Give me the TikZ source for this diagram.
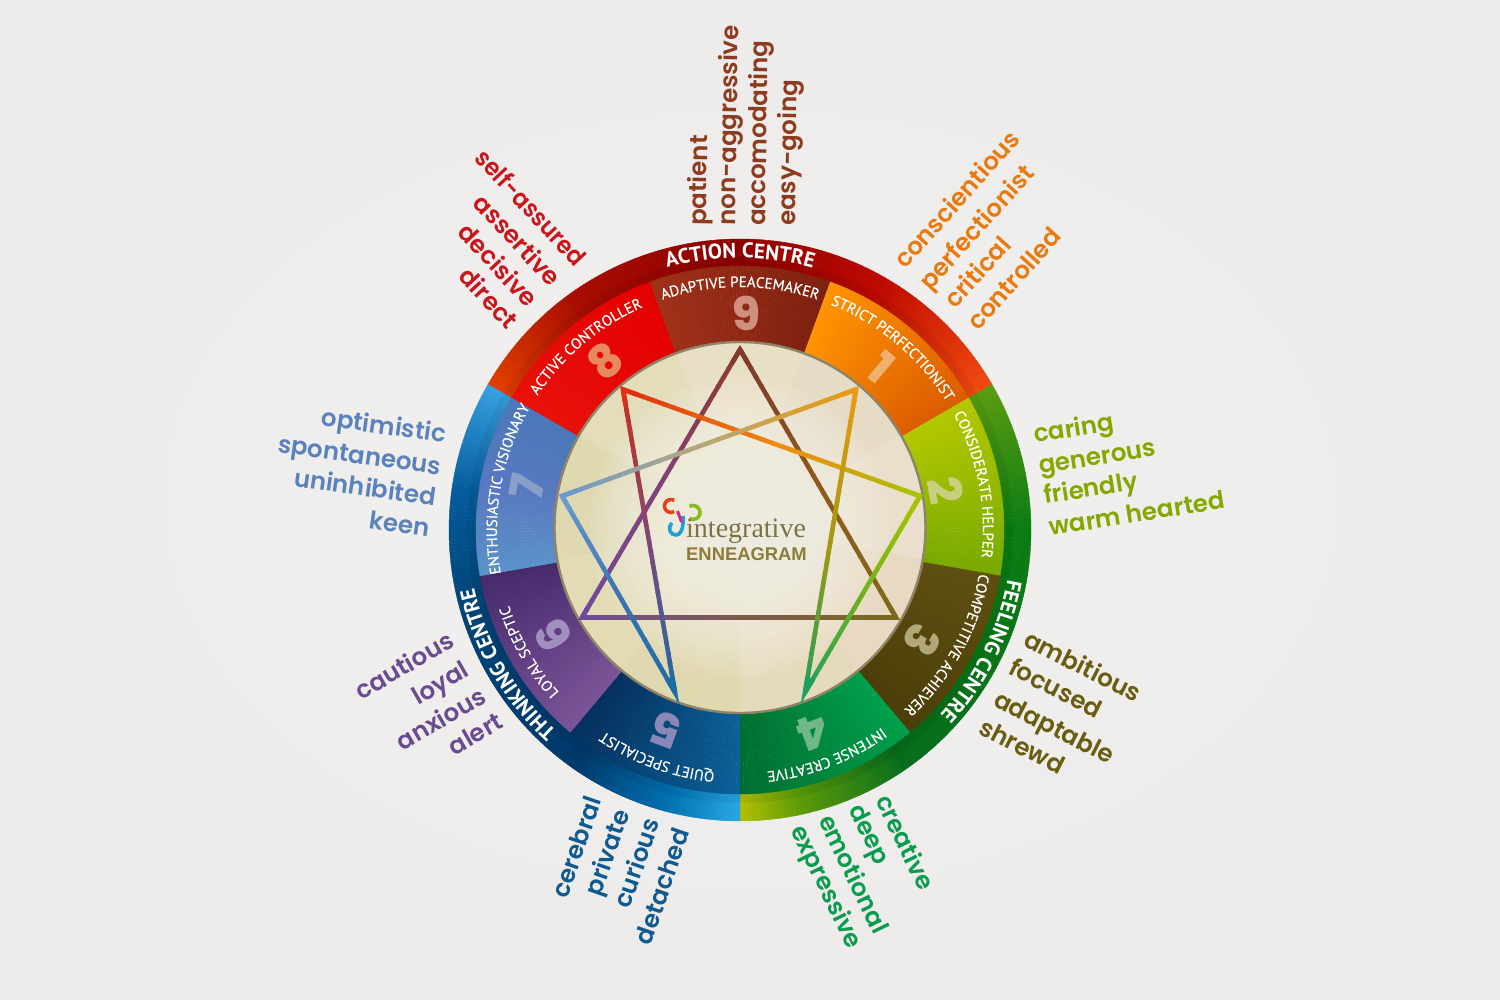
\documentclass[tikz,border=0pt]{standalone}
\usepackage{fontspec}
\usetikzlibrary{calc,decorations.text}
\newfontfamily\lstfont{Poppins SemiBold}
\newfontfamily\numfont{Poppins ExtraBold}
\newfontfamily\ringfont{PT Sans}[FakeBold=0.5]
\newfontfamily\ringbfont{PT Sans Bold}
\newfontfamily\logofont{Liberation Serif}
\newfontfamily\enfont{Liberation Sans}
\makeatletter
\newcommand\dcs[1]{\@for\hx:=#1\do{\edef\tmpdc{\noexpand\definecolor{\hx}{HTML}{\hx}}\tmpdc}}
\makeatother
\dcs{F3F2F0,ECEBE9,F04A10,BE0A00,8C0000,A80C00,E04000,5A9C10,0A7C12,066C1C,5E9C08,B4C000,38A0E0,045C9C,004478,00386A,0070B0,28A8E4,E8100A,E40000,A03018,7E2010,FF9400,DC5C00,B4C800,78AA00,5E4E10,4C3E08,00A04C,006E30,0A6098,04305E,7C5498,452A6C,5A92C8,5878C0,4A78B8,E2DCB6,E8E0C4,E6DCC6,EADFCC,E8DAC2,E6DABC,E0D8B0,E2DBB4,DFD9B2,E4DDBC,F6F3E9,8F8468,7E3A2C,8E5A1C,7E6A18,8E3A30,844078,6E4C9A,7A6A20,7C5A50,E03010,F08A10,A8C400,C83020,7C4878,1C6CA8,E89A10,B8A878,6A9AD0,A09810,1CA060,70B020,3E74B4,D09080,F0B070,C8D080,B0A878,70B888,8A88B8,A090C0,88A0C8,E88860,E8401C,8DB81E,1E9FD8,D4267C,7C7244,8C7C38}
\definecolor{tEight}{HTML}{C8161C}
\definecolor{tNine}{HTML}{8E3A1E}
\definecolor{tOne}{HTML}{E87A10}
\definecolor{tTwo}{HTML}{84A800}
\definecolor{tThree}{HTML}{6A5C10}
\definecolor{tFour}{HTML}{0A9C4C}
\definecolor{tFive}{HTML}{0F5A90}
\definecolor{tSix}{HTML}{6A4A90}
\definecolor{tSeven}{HTML}{5A82BC}
% ring sector: radii, angle range, colours at both ends
\newcommand\gsect[6]{%
  \pgfmathtruncatemacro\nst{max(1,abs(#4-#3)/0.8)}%
  \foreach \i in {1,...,\nst}{%
    \pgfmathsetmacro\aa{#3+(#4-#3)*(\i-1)/\nst}%
    \pgfmathsetmacro\ab{#3+(#4-#3)*\i/\nst}%
    \pgfmathtruncatemacro\pp{100*(\i-0.5)/\nst}%
    \path[fill=#6!\pp!#5,draw=#6!\pp!#5,line width=.4pt] (\aa:#1) arc[start angle=\aa,end angle=\ab,radius=#1] -- (\ab:#2) arc[start angle=\ab,end angle=\aa,radius=#2] -- cycle;
  }}
% graded star line with a middle colour
\newcommand\glink[5]{%
  \foreach \i in {0,...,29}{%
    \pgfmathsetmacro\ta{\i/30}%
    \pgfmathsetmacro\tb{min(1,(\i+1.2)/30)}%
    \pgfmathtruncatemacro\pp{\i<15 ? \i*100/15 : (\i-15)*100/15}%
    \ifnum\i<15 \colorlet{cc}{#4!\pp!#3}\else \colorlet{cc}{#5!\pp!#4}\fi
    \draw[link,cc] ($(#1)!\ta!(#2)$) -- ($(#1)!\tb!(#2)$);
  }}
\newcommand\gtip[4]{\draw[link,miter limit=12,#2] ($(#1)!16pt!(#3)$) -- (#1) -- ($(#1)!16pt!(#4)$);}
% text round the ring (always clockwise)
\newcommand\ringtext[5]{%
  \pgfmathsetmacro\aa{#2+#3}\pgfmathsetmacro\ab{#2-#3}%
  \path[decorate,decoration={text along path,text align=center,
    text={|\color{white}#5\selectfont|#4}}]
    (\aa:#1) arc[start angle=\aa,end angle=\ab,radius=#1];}
\tikzset{
  link/.style={line width=4.6pt,line cap=butt,line join=miter},
  lst/.style={font=\lstfont\fontsize{24.5}{25}\selectfont,inner sep=0pt},
  bignum/.style={font=\numfont\fontsize{46}{46}\selectfont,inner sep=0pt},
}
\begin{document}
\begin{tikzpicture}[x=1pt,y=-1pt]
\useasboundingbox (0,0) rectangle (1500,1000);
\shade[inner color=F3F2F0,outer color=ECEBE9] (0,0) rectangle (1500,1000);

\begin{scope}[shift={(740,530)},x=1pt,y=1pt]
  % outer ring: action
  \gsect{291}{262}{30}{60}{F04A10}{BE0A00}
  \gsect{291}{262}{60}{90}{BE0A00}{8C0000}
  \gsect{291}{262}{90}{125}{8C0000}{A80C00}
  \gsect{291}{262}{125}{150}{A80C00}{E04000}
  % outer ring: feeling
  \gsect{291}{262}{30}{0}{5A9C10}{0A7C12}
  \gsect{291}{262}{0}{-55}{0A7C12}{066C1C}
  \gsect{291}{262}{-55}{-78}{066C1C}{5E9C08}
  \gsect{291}{262}{-78}{-90}{5E9C08}{B4C000}
  % outer ring: thinking
  \gsect{291}{262}{150}{172}{38A0E0}{045C9C}
  \gsect{291}{262}{172}{195}{045C9C}{004478}
  \gsect{291}{262}{195}{235}{004478}{00386A}
  \gsect{291}{262}{235}{255}{00386A}{0070B0}
  \gsect{291}{262}{255}{270}{0070B0}{28A8E4}
  % shadow next to the middle ring
  \foreach \r in {264,266,...,272}{\draw[black,opacity=.05,line width=2pt] (0,0) circle[radius=\r];}
  % middle ring
  \gsect{264}{180}{150}{110}{E8100A}{E40000}
  \gsect{264}{180}{110}{70}{A03018}{7E2010}
  \gsect{264}{180}{70}{30}{FF9400}{DC5C00}
  \gsect{264}{180}{30}{-10}{B4C800}{78AA00}
  \gsect{264}{180}{-10}{-50}{5E4E10}{4C3E08}
  \gsect{264}{180}{-50}{-90}{00A04C}{006E30}
  \gsect{264}{180}{-90}{-130}{0A6098}{04305E}
  \gsect{264}{180}{-130}{-170}{7C5498}{452A6C}
  \gsect{264}{180}{190}{170}{5A92C8}{5878C0}
  \gsect{264}{180}{170}{150}{5878C0}{4A78B8}
\end{scope}

% centre disc
\begin{scope}[shift={(740,527.5)},x=1pt,y=1pt]
  \fill[E2DCB6] (0,0) circle[radius=186];
  \foreach \a/\c in {70/E8E0C4,30/E6DCC6,-10/EADFCC,-50/E8DAC2,-90/E6DABC,-130/E0D8B0,-170/E2DBB4,150/DFD9B2,110/E4DDBC}{
    \fill[\c] (0,0) -- (\a:186) arc[start angle=\a,end angle=\a+40,radius=186] -- cycle;}
  \foreach \r in {150,144,...,12}{\fill[F6F3E9,opacity=.1] (0,0) circle[radius=\r];}
  \draw[8F8468,line width=2.4pt] (0,0) circle[radius=185.5];
  % star points
  \coordinate (p9) at (0,178);
  \coordinate (p1) at (116,138);
  \coordinate (p2) at (180,31.5);
  \coordinate (p3) at (156,-90);
  \coordinate (p4) at (65,-165);
  \coordinate (p5) at (-65,-165);
  \coordinate (p6) at (-158,-90);
  \coordinate (p7) at (-178,31.5);
  \coordinate (p8) at (-117,138);
\end{scope}

% star
\glink{p9}{p3}{7E3A2C}{8E5A1C}{7E6A18}
\glink{p9}{p6}{8E3A30}{844078}{6E4C9A}
\glink{p3}{p6}{7A6A20}{7C5A50}{6E4C9A}
\glink{p8}{p2}{E03010}{F08A10}{A8C400}
\glink{p8}{p5}{C83020}{7C4878}{1C6CA8}
\glink{p1}{p7}{E89A10}{B8A878}{6A9AD0}
\glink{p1}{p4}{E89A10}{A09810}{1CA060}
\glink{p2}{p4}{A8C400}{70B020}{1CA060}
\glink{p5}{p7}{1C6CA8}{3E74B4}{6A9AD0}
\gtip{p9}{7E3A2C}{p3}{p6}
\gtip{p1}{E89A10}{p7}{p4}
\gtip{p2}{A8C400}{p8}{p4}
\gtip{p3}{7A6A20}{p9}{p6}
\gtip{p4}{1CA060}{p1}{p2}
\gtip{p5}{1C6CA8}{p7}{p8}
\gtip{p6}{6E4C9A}{p3}{p9}
\gtip{p7}{6A9AD0}{p1}{p5}
\gtip{p8}{E03010}{p2}{p5}

% ring labels
\begin{scope}[shift={(740,530)},x=1pt,y=1pt]
  \ringtext{272}{90}{40}{ACTION CENTRE}{\ringbfont\fontsize{21}{21}}
  \ringtext{272}{-26.6}{40}{FEELING CENTRE}{\ringbfont\fontsize{21}{21}}
  \ringtext{272}{210}{40}{THINKING CENTRE}{\ringbfont\fontsize{21}{21}}
  \ringtext{243}{90}{40}{ADAPTIVE PEACEMAKER}{\ringfont\fontsize{15}{15}}
  \ringtext{243}{50}{40}{STRICT PERFECTIONIST}{\ringfont\fontsize{15}{15}}
  \ringtext{243}{11}{40}{CONSIDERATE HELPER}{\ringfont\fontsize{15}{15}}
  \ringtext{243}{-29}{40}{COMPETITIVE ACHIEVER}{\ringfont\fontsize{15}{15}}
  \ringtext{243}{-69}{40}{INTENSE CREATIVE}{\ringfont\fontsize{15}{15}}
  \ringtext{243}{-110}{40}{QUIET SPECIALIST}{\ringfont\fontsize{15}{15}}
  \ringtext{243}{-150}{40}{LOYAL SCEPTIC}{\ringfont\fontsize{15}{15}}
  \ringtext{243}{170}{40}{ENTHUSIASTIC VISIONARY}{\ringfont\fontsize{15}{15}}
  \ringtext{243}{130}{40}{ACTIVE CONTROLLER}{\ringfont\fontsize{15}{15}}
\end{scope}

% numerals
\node[bignum,text=D09080,rotate=0] (n9) at (746,313) {9};
\node[bignum,text=F0B070,rotate=-40] (n1) at (881,367) {1};
\node[bignum,text=C8D080,rotate=-80] (n2) at (946,490) {2};
\node[bignum,text=B0A878,rotate=-120] (n3) at (922,640) {3};
\node[bignum,text=70B888,rotate=-160] (n4) at (813,732) {4};
\node[bignum,text=8A88B8,rotate=160] (n5) at (667,730) {5};
\node[bignum,text=A090C0,rotate=120] (n6) at (553,635) {6};
\node[bignum,text=88A0C8,rotate=80] (n7) at (527,487) {7};
\node[bignum,text=E88860,rotate=40] (n8) at (605,361) {8};

% logo
\draw[E8401C,line width=3.6pt] (674.2,500.4) arc[start angle=300,end angle=60,radius=6.5];
\draw[8DB81E,line width=3.6pt] (689.5,506.4) arc[start angle=240,end angle=480,radius=7];
\draw[1E9FD8,line width=3.6pt] (683,516) .. controls (684,530) and (680,535) .. (676,535) .. controls (670,535) and (667,528) .. (672,523);
\draw[D4267C,line width=3pt] (677.5,511) -- (681.5,522);
\node[font=\logofont\fontsize{28}{28}\selectfont,text=7C7244,anchor=base west,inner sep=0pt] (logoA) at (686,537) {integrative};
\node[font=\enfont\bfseries\fontsize{18.4}{19}\selectfont,text=8C7C38,anchor=base west,inner sep=0pt] (logoB) at (686,560) {ENNEAGRAM};

% word lists
\begin{scope}[every node/.append style={lst}]
\node[text=tNine,rotate=89,anchor=base west] (w91) at (706,226) {patient};
\node[text=tNine,rotate=89,anchor=base west] (w92) at (735,226) {non-aggressive};
\node[text=tNine,rotate=89,anchor=base west] (w93) at (765,226) {accomodating};
\node[text=tNine,rotate=89,anchor=base west] (w94) at (795,226) {easy-going};
\node[text=tOne,rotate=48,anchor=base west] (w11) at (905,270) {conscientious};
\node[text=tOne,rotate=48,anchor=base west] (w12) at (930,292) {perfectionist};
\node[text=tOne,rotate=48,anchor=base west] (w13) at (955,310) {critical};
\node[text=tOne,rotate=48,anchor=base west] (w14) at (978,332) {controlled};
\node[text=tTwo,rotate=9,anchor=base west] (w21) at (1035,443) {caring};
\node[text=tTwo,rotate=9,anchor=base west] (w22) at (1040,474) {generous};
\node[text=tTwo,rotate=9,anchor=base west] (w23) at (1045,504) {friendly};
\node[text=tTwo,rotate=9,anchor=base west] (w24) at (1050,536) {warm hearted};
\node[text=tThree,rotate=-27,anchor=base west] (w31) at (1022,645) {ambitious};
\node[text=tThree,rotate=-27,anchor=base west] (w32) at (1007,673) {focused};
\node[text=tThree,rotate=-27,anchor=base west] (w33) at (992,705) {adaptable};
\node[text=tThree,rotate=-27,anchor=base west] (w34) at (977,733) {shrewd};
\node[text=tFour,rotate=-64,anchor=base west] (w41) at (875,800) {creative};
\node[text=tFour,rotate=-64,anchor=base west] (w42) at (848,809) {deep};
\node[text=tFour,rotate=-64,anchor=base west] (w43) at (818,820) {emotional};
\node[text=tFour,rotate=-64,anchor=base west] (w44) at (790,830) {expressive};
\node[text=tFive,rotate=71,anchor=base east] (w51) at (602,800) {cerebral};
\node[text=tFive,rotate=71,anchor=base east] (w52) at (630,813) {private};
\node[text=tFive,rotate=71,anchor=base east] (w53) at (660,822) {curious};
\node[text=tFive,rotate=71,anchor=base east] (w54) at (690,832) {detached};
\node[text=tSix,rotate=30,anchor=base east] (w61) at (456,646) {cautious};
\node[text=tSix,rotate=30,anchor=base east] (w62) at (471,675) {loyal};
\node[text=tSix,rotate=30,anchor=base east] (w63) at (488,702) {anxious};
\node[text=tSix,rotate=30,anchor=base east] (w64) at (505,727) {alert};
\node[text=tSeven,rotate=-8,anchor=base east] (w71) at (445,443) {optimistic};
\node[text=tSeven,rotate=-8,anchor=base east] (w72) at (440,475) {spontaneous};
\node[text=tSeven,rotate=-8,anchor=base east] (w73) at (435,506) {uninhibited};
\node[text=tSeven,rotate=-8,anchor=base east] (w74) at (429,537) {keen};
\node[text=tEight,rotate=-47,anchor=base east,xscale=0.93] (w81) at (575,268) {self-assured};
\node[text=tEight,rotate=-47,anchor=base east] (w82) at (550,288) {assertive};
\node[text=tEight,rotate=-47,anchor=base east] (w83) at (527,309) {decisive};
\node[text=tEight,rotate=-47,anchor=base east] (w84) at (507,331) {direct};
\end{scope}
\end{tikzpicture}
\end{document}
